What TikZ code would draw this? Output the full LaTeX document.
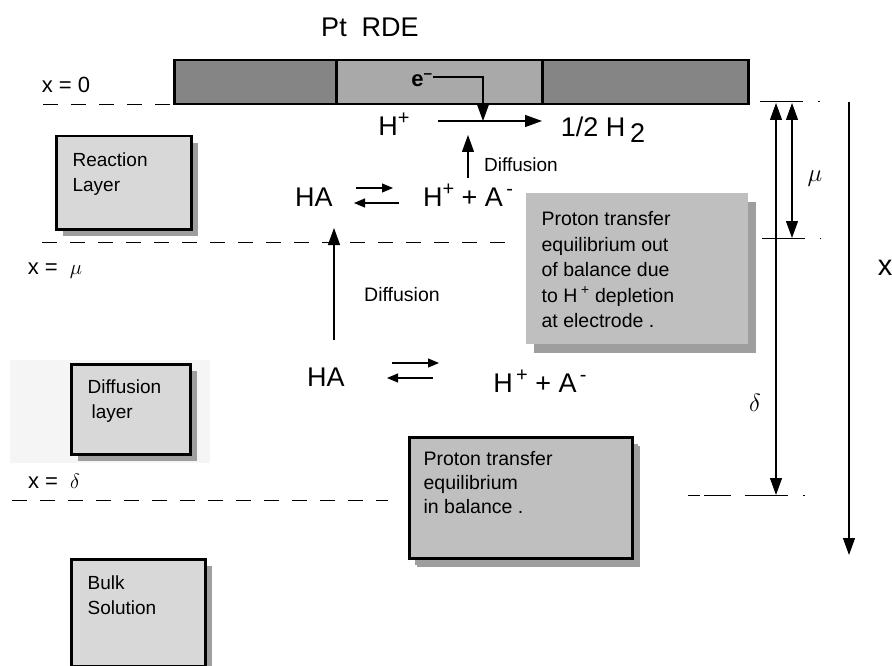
\documentclass[tikz,border=0pt]{standalone}
\usepackage{fontspec}
\setmainfont{Liberation Sans}
\usetikzlibrary{arrows.meta,shadows}
\definecolor{padgrey}{HTML}{858585}
\definecolor{padmid}{HTML}{A9A9A9}
\definecolor{boxlight}{HTML}{D8D8D8}
\definecolor{boxmid}{HTML}{BFBFBF}
\definecolor{shadowgrey}{HTML}{9E9E9E}
\definecolor{haze}{HTML}{F5F5F5}
\newcommand{\fs}[1]{\fontsize{#1}{#1}\selectfont}
\newcommand{\up}[1]{\raisebox{0.42em}{\fs{20}#1}}

\begin{document}
\begin{tikzpicture}[x=1pt,y=-1pt,line width=1.2pt]
    %
    % `layer' is used for the boxes on the left (with a drop shadow).
    % `note' is used for the two grey comment boxes.
    % `pad' is used for the parts of the electrode.
    \tikzstyle{pad} = [draw,line width=2.5pt,fill=padgrey,anchor=north west,inner sep=0pt,minimum height=44pt]
    \tikzstyle{layer} = [draw,line width=2.5pt,fill=boxlight,anchor=north west,inner sep=0pt,drop shadow={shadow xshift=7pt,shadow yshift=-7pt,fill=shadowgrey,opacity=1}]
    \tikzstyle{note} = [fill=boxmid,anchor=north west,inner sep=0pt,drop shadow={shadow xshift=8pt,shadow yshift=-9pt,fill=shadowgrey,opacity=1}]
    \tikzstyle{boxtext} = [anchor=north west,align=left,inner sep=0pt,font=\fontsize{19.5}{25.5}\selectfont]
    \tikzstyle{layertext} = [anchor=north west,align=left,inner sep=0pt,font=\fontsize{19}{25}\selectfont]
    \tikzstyle{chem} = [inner sep=0pt,font=\fs{27}]
    \tikzstyle{xlevel} = [inner sep=0pt,font=\fs{22}]
    \tikzstyle{level} = [dash pattern=on 15pt off 13pt,line width=1pt]
    \tikzstyle{arr} = [-{Triangle[length=17pt,width=12pt]}]
    \tikzstyle{smallarr} = [-{Triangle[length=11pt,width=9pt]}]
    %
    \useasboundingbox (0,0) rectangle (892,666);
    %
    % Electrode
    \node[chem] (rde) at (370,27) {Pt\ \ RDE};
    \node[pad,minimum width=162pt] (padl) at (173,59) {};
    \node[pad,fill=padmid,minimum width=206pt] (padm) at (335,59) {};
    \node[pad,minimum width=206pt] (padr) at (541,59) {};
    \node[inner sep=0pt,font=\bfseries\fs{22}] (elec) at (422,80) {e\textsuperscript{--}};
    %
    % Reduction at the surface
    \node[chem] (hplus) at (394,124) {H\up{+}};
    \node[chem] (htwo) at (603,130) {1/2 H\,\raisebox{-6pt}{2}};
    \coordinate (redin) at (438,121);
    \coordinate (redout) at (542,121);
    \coordinate (ecorner) at (483,77);
    \draw[arr] (redin) -- (redout);
    \draw[arr] (elec.east |- ecorner) -- (ecorner) -- (ecorner |- redin);
    \coordinate (diffa) at (468,178);
    \coordinate (diffb) at (468,135);
    \draw[arr] (diffa) -- (diffb);
    \node[inner sep=0pt,font=\fs{19}] (difflabela) at (521,165) {Diffusion};
    %
    % Reaction layer equilibrium
    \node[chem] (hatop) at (314,197) {HA};
    \node[chem] (iontop) at (468,195) {H\up{+} + A\up{\,-}};
    \coordinate (eqta) at (356,188);
    \coordinate (eqtb) at (393,188);
    \coordinate (eqba) at (399,203);
    \coordinate (eqbb) at (354,203);
    \draw[smallarr] (eqta) -- (eqtb);
    \draw[smallarr] (eqba) -- (eqbb);
    %
    % Diffusion from the bulk
    \coordinate (diffc) at (334,340);
    \coordinate (diffd) at (334,228);
    \draw[arr] (diffc) -- (diffd);
    \node[inner sep=0pt,font=\fs{19.5}] (difflabelb) at (402,295) {Diffusion};
    %
    % Diffusion layer equilibrium
    \node[chem] (habot) at (326,377) {HA};
    \node[chem] (ionbot) at (540,381) {H\up{\,+} + A\up{\,-}};
    \coordinate (eqtc) at (392,363);
    \coordinate (eqtd) at (439,363);
    \coordinate (eqbc) at (433,378);
    \coordinate (eqbd) at (387,378);
    \draw[smallarr] (eqtc) -- (eqtd);
    \draw[smallarr] (eqbc) -- (eqbd);
    %
    % Comment boxes
    \node[note,minimum width=222pt,minimum height=151pt] (outbal) at (525,192) {};
    \node[boxtext] (outtext) at (541,211) {Proton transfer\\equilibrium out\\of balance due\\to H\textsuperscript{ +} depletion\\at electrode .};
    \node[note,draw,line width=2.5pt,minimum width=223pt,minimum height=121pt,drop shadow={shadow xshift=6pt,shadow yshift=-7pt,fill=shadowgrey,opacity=1}] (inbal) at (408,436) {};
    \node[boxtext,font=\fontsize{19.5}{24}\selectfont] (intext) at (423,451) {Proton transfer\\equilibrium\\in balance .};
    %
    % Layers
    \fill[haze] (10,360) rectangle (210,463);
    \node[layer,minimum width=135pt,minimum height=93pt] (react) at (55,135) {};
    \node[layertext] (reacttext) at (72,152) {Reaction\\Layer};
    \node[layer,minimum width=119pt,minimum height=90pt] (difflayer) at (70,363) {};
    \node[layertext] (difftext) at (87,379) {Diffusion\\\hspace{4pt}layer};
    \node[layer,minimum width=134pt,minimum height=107pt] (bulk) at (70,558) {};
    \node[layertext] (bulktext) at (87,575) {Bulk\\Solution};
    %
    % Levels
    \node[xlevel] (xzero) at (66,85) {x = 0};
    \node[xlevel] (xmu) at (55,271) {x =\ \ $\mu$};
    \node[xlevel] (xdelta) at (54,481) {x =\ \ $\delta$};
    \coordinate (zeroa) at (43,105);
    \coordinate (mua) at (42,242);
    \coordinate (mub) at (512,242);
    \coordinate (deltaa) at (12,500);
    \coordinate (deltab) at (388,500);
    \draw[level] (zeroa) -- (zeroa -| padl.west);
    \draw[level] (mua) -- (mub);
    \draw[level] (deltaa) -- (deltab);
    \coordinate (zeroc) at (760,102);
    \coordinate (zerod) at (821,102);
    \coordinate (muc) at (762,238);
    \coordinate (mud) at (821,238);
    \coordinate (deltac) at (688,495);
    \coordinate (deltad) at (806,495);
    \draw[line width=1pt,dash pattern=on 43pt off 15pt on 2pt off 5pt] (zeroc) -- (zerod);
    \draw[line width=1pt,dash pattern=on 43pt off 15pt on 2pt off 5pt] (muc) -- (mud);
    \draw[line width=1pt,dash pattern=on 12pt off 4pt on 27pt off 14pt on 43pt off 15pt on 2pt off 5pt] (deltac) -- (deltad);
    %
    % Distances
    \coordinate (deltatop) at (776,103);
    \coordinate (deltabot) at (776,495);
    \coordinate (mutop) at (792,103);
    \coordinate (mubot) at (792,238);
    \coordinate (xtop) at (849,102);
    \coordinate (xbot) at (849,555);
    \draw[{Triangle[length=17pt,width=12pt]}-{Triangle[length=17pt,width=12pt]}] (deltatop) -- (deltabot);
    \draw[{Triangle[length=17pt,width=12pt]}-{Triangle[length=17pt,width=12pt]}] (mutop) -- (mubot);
    \draw[arr] (xtop) -- (xbot);
    \node[inner sep=0pt,font=\fs{26}] (mulabel) at (815,179) {$\mu$};
    \node[inner sep=0pt,font=\fs{28}] (deltalabel) at (755,403) {$\delta$};
    \node[inner sep=0pt,font=\fs{29}] (xlabel) at (885,268) {x};
    %
\end{tikzpicture}
\end{document}
